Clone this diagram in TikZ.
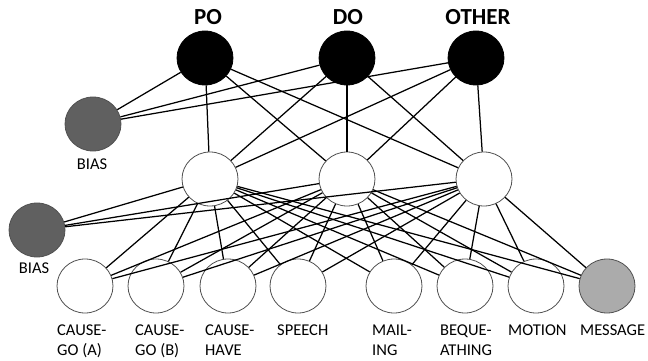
\documentclass[tikz,border=0pt]{standalone}
\usepackage{fontspec}
\setmainfont{Carlito}
\usetikzlibrary{shapes.geometric}
\definecolor{biasgray}{HTML}{606060}
\definecolor{msggray}{HTML}{ABABAB}
\definecolor{rimgray}{HTML}{505050}
\begin{document}
\begin{tikzpicture}[x=1pt,y=-1pt,
  unit/.style={ellipse,draw=rimgray,line width=0.8pt,minimum width=56pt,minimum height=54pt,inner sep=0pt},
  outunit/.style={unit,fill=black,draw=black},
  biasunit/.style={unit,fill=biasgray},
  msgunit/.style={unit,fill=msggray},
  hidunit/.style={unit,fill=white},
  inunit/.style={unit,fill=white},
  toplabel/.style={font=\fontsize{23}{26}\selectfont\bfseries,inner sep=0pt},
  smalllabel/.style={font=\fontsize{16.5}{19.5}\selectfont,inner sep=0pt},
  inlabel/.style={smalllabel,align=left,anchor=north west},
  conn/.style={line width=1.25pt,black}
]
\useasboundingbox (0,0) rectangle (648,361);
% output layer
\node[outunit] (po) at (205,58) {};
\node[outunit] (do) at (347,58) {};
\node[outunit] (other) at (476,58) {};
\node[toplabel] (lpo) at (208,17) {PO};
\node[toplabel] (ldo) at (348,17) {DO};
\node[toplabel] (lother) at (478,17) {OTHER};
% top bias
\node[biasunit] (biast) at (93,124) {};
\node[smalllabel] (lbiast) at (92,164) {BIAS};
% hidden layer
\node[hidunit] (h1) at (210,179) {};
\node[hidunit] (h2) at (347,179) {};
\node[hidunit] (h3) at (484,179) {};
% bottom bias
\node[biasunit] (biasb) at (37,230) {};
\node[smalllabel] (lbiasb) at (34,268) {BIAS};
% input layer
\node[inunit] (i1) at (85,286) {};
\node[inunit] (i2) at (156,286) {};
\node[inunit] (i3) at (228,286) {};
\node[inunit] (i4) at (298,286) {};
\node[inunit] (i5) at (394,286) {};
\node[inunit] (i6) at (465,286) {};
\node[inunit] (i7) at (536,286) {};
\node[msgunit] (i8) at (607,286) {};
\node[inlabel] (l1) at (57,325) {CAUSE-\\GO (A)};
\node[inlabel] (l2) at (135,325) {CAUSE-\\GO (B)};
\node[inlabel] (l3) at (205,325) {CAUSE-\\HAVE};
\node[inlabel] (l4) at (277,325) {SPEECH};
\node[inlabel] (l5) at (372,325) {MAIL-\\ING};
\node[inlabel] (l6) at (440,325) {BEQUE-\\ATHING};
\node[inlabel] (l7) at (508,325) {MOTION};
\node[inlabel] (l8) at (580,325) {MESSAGE};
% connections
\foreach \o in {po,do,other}{
  \draw[conn] (biast) -- (\o);
  \foreach \h in {h1,h2,h3}{\draw[conn] (\h) -- (\o);}
}
\foreach \h in {h1,h2,h3}{
  \draw[conn] (biasb) -- (\h);
  \foreach \i in {i1,i2,i3,i4,i5,i6,i7,i8}{\draw[conn] (\i) -- (\h);}
}
\end{tikzpicture}
\end{document}
